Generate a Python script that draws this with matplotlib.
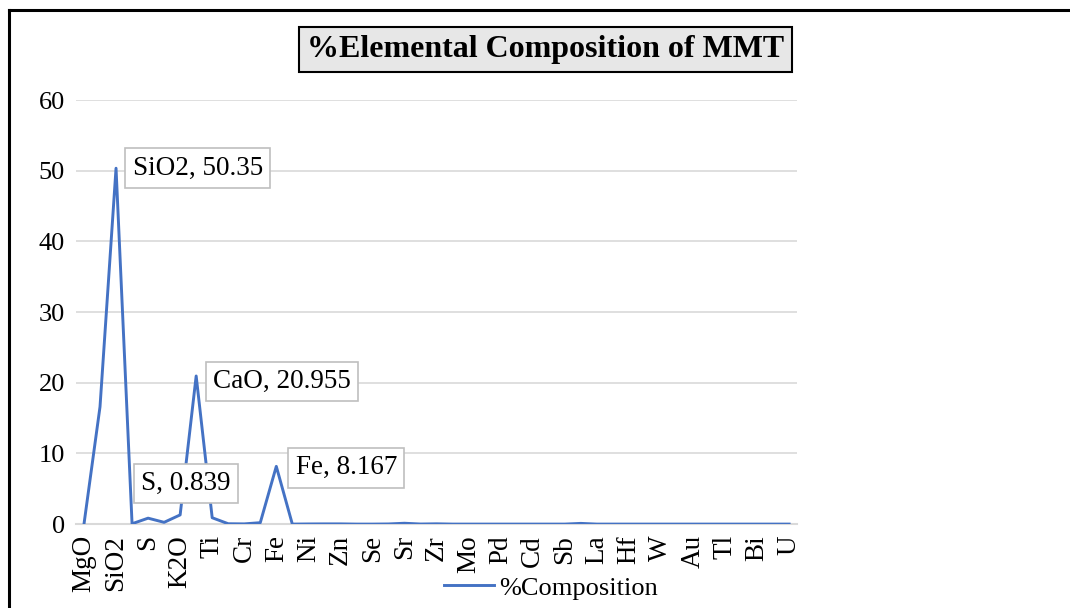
import matplotlib.pyplot as plt
from matplotlib.lines import Line2D

plt.rcParams['font.family'] = ['Liberation Serif', 'DejaVu Serif']

# oxide / element order from the XRF report
components = ['MgO', 'Al2O3', 'SiO2', 'P2O5', 'S', 'Cl', 'K2O', 'CaO', 'Ti', 'V',
              'Cr', 'Mn', 'Fe', 'Co', 'Ni', 'Cu', 'Zn', 'As', 'Se', 'Rb',
              'Sr', 'Y', 'Zr', 'Nb', 'Mo', 'Rh', 'Pd', 'Ag', 'Cd', 'Sn',
              'Sb', 'Ba', 'La', 'Ce', 'Hf', 'Ta', 'W', 'Pt', 'Au', 'Hg',
              'Tl', 'Pb', 'Bi', 'Th', 'U']
composition = [0.0, 16.6, 50.35, 0.05, 0.839, 0.25, 1.3, 20.955, 0.9, 0.05,
               0.03, 0.2, 8.167, 0.0, 0.02, 0.03, 0.03, 0.0, 0.0, 0.02,
               0.12, 0.01, 0.04, 0.0, 0.0, 0.0, 0.0, 0.0, 0.0, 0.0,
               0.0, 0.1, 0.0, 0.0, 0.0, 0.0, 0.0, 0.0, 0.0, 0.0,
               0.0, 0.0, 0.0, 0.0, 0.0]
yticks = [0, 10, 20, 30, 40, 50, 60]

# labelled points: (component, offset in points)
callouts = [('SiO2', (12, 0), 'left', 'center'),
            ('CaO', (12, -4), 'left', 'center'),
            ('Fe', (14, -1), 'left', 'center'),
            ('S', (-5, 25), 'left', 'center')]

fig = plt.figure(figsize=(10.7, 6.08), dpi=100)
ax = fig.add_axes([0.071, 0.138, 0.674, 0.6975])

x = list(range(len(components)))
ax.plot(x, composition, color='#4472C4', linewidth=2.1, label='%Composition', zorder=3)

ax.set_xlim(-0.5, len(components) - 0.5)
ax.set_ylim(0, 60)
ax.set_yticks(yticks)
ax.set_xticks(x[::2])
ax.set_xticklabels(components[::2], rotation=90, fontsize=19.5)
ax.tick_params(axis='y', labelsize=19, length=0, pad=8)
ax.tick_params(axis='x', length=0, pad=8)
ax.grid(axis='y', color='#d9d9d9', linewidth=1.2)
ax.set_axisbelow(True)
for side in ['top', 'right', 'left']:
    ax.spines[side].set_visible(False)
ax.spines['bottom'].set_color('#d9d9d9')
ax.spines['bottom'].set_linewidth(1.5)

for name, offset, ha, va in callouts:
    i = components.index(name)
    ax.annotate('%s, %s' % (name, composition[i]), (i, composition[i]),
                xytext=offset, textcoords='offset points', ha=ha, va=va,
                fontsize=19.5, zorder=4,
                bbox=dict(boxstyle='square,pad=0.27', fc='white', ec='#bfbfbf', lw=1.2))

fig.text(0.51, 0.918, '%Elemental Composition of MMT', ha='center', va='center',
         fontsize=23, fontweight='bold',
         bbox=dict(boxstyle='square,pad=0.25', fc='#e7e7e7', ec='black', lw=1.5))

fig.legend(loc='center', bbox_to_anchor=(0.515, 0.033), frameon=False,
           fontsize=19, handlelength=1.9, handletextpad=0.2, borderaxespad=0)

# outer chart frame (left and top edges only)
fig.add_artist(Line2D([0.0085, 0.0085], [0, 0.984], color='black', lw=2.2))
fig.add_artist(Line2D([0.0085, 1.0], [0.984, 0.984], color='black', lw=2.2))

plt.savefig('out.png', dpi=100)
